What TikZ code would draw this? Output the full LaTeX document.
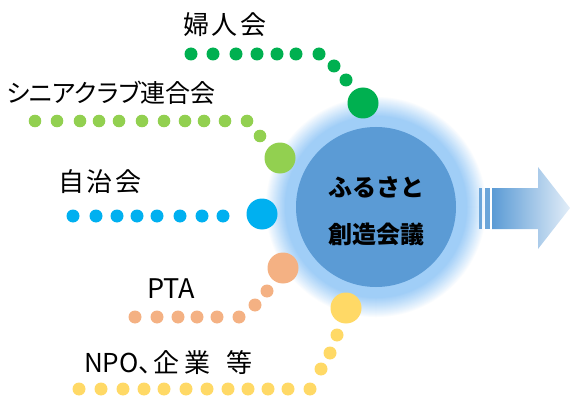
\documentclass[tikz,border=0pt]{standalone}
\usepackage{fontspec}
\newfontfamily\jp[RawFeature=+palt]{Noto Sans CJK JP}
\newfontfamily\jpw[RawFeature=+palt,LetterSpace=8]{Noto Sans CJK JP}
\newfontfamily\jpb{Noto Sans CJK JP}
\definecolor{cgreen}{HTML}{00B050}
\definecolor{clgreen}{HTML}{92D050}
\definecolor{cblue}{HTML}{00B0F0}
\definecolor{corange}{HTML}{F4B183}
\definecolor{cyellow}{HTML}{FFD966}
\definecolor{mainc}{HTML}{5B9BD5}
\definecolor{glowc}{HTML}{A0CEF7}
\definecolor{arrowL}{HTML}{5B9BD5}
\definecolor{arrowR}{HTML}{E2EDF8}
\tikzset{
  lbl/.style={font=\jp\fontsize{25}{25}\selectfont, inner sep=0pt},
  lblw/.style={font=\jpw\fontsize{26}{26}\selectfont, inner sep=0pt},
  ctr/.style={font=\jpb\bfseries\fontsize{24}{24}\selectfont, inner sep=0pt},
  bigdot/.style={circle, minimum size=31pt, inner sep=0pt, draw=none},
}
\begin{document}
\begin{tikzpicture}[x=1pt,y=-1pt]
\useasboundingbox (0,0) rectangle (571,396);
% glow
\foreach \r in {111,110,...,81} {
  \pgfmathtruncatemacro\p{min(100,100*((111-\r)/20)^0.9)}
  \fill[glowc!\p!white] (376,207) circle (\r pt);
}
\node[circle, minimum size=160pt, inner sep=0pt, fill=mainc] (core) at (376,207) {};
\node[ctr] (t1) at (376,187) {ふるさと};
\node[ctr] (t2) at (376,234) {創造会議};
% arrow
\fill[mainc!90!white] (479,188) rectangle (482,229);
\fill[mainc!90!white] (484.7,188) rectangle (490,229);
\shade[left color=arrowL, right color=arrowR] (492,188) -- (538,188) -- (538,167) -- (570,208) -- (538,249) -- (538,229) -- (492,229) -- cycle;
% green
\foreach \x in {191,213,236,257,277,296,319} \fill[cgreen] (\x,54) circle (6.5pt);
\fill[cgreen] (334,66) circle (6.5pt);
\fill[cgreen] (346,80) circle (6.5pt);
\node[bigdot, fill=cgreen] (g) at (363,103) {};
% light green
\foreach \x in {35,57,80,99,119,142,164,185,204,225,247} \fill[clgreen] (\x,121) circle (6.3pt);
\fill[clgreen] (260,136) circle (6.3pt);
\node[bigdot, fill=clgreen] (lg) at (280,158) {};
% blue
\foreach \x in {73,96,117,137,157,180,202,223} \fill[cblue] (\x,216) circle (6.5pt);
\node[bigdot, fill=cblue] (b) at (262,214) {};
% orange
\foreach \x in {135,157,178,197,217,239} \fill[corange] (\x,317) circle (6.5pt);
\fill[corange] (255,305) circle (6.5pt);
\fill[corange] (267,291) circle (6.5pt);
\node[bigdot, fill=corange] (o) at (283,268) {};
% yellow
\foreach \x in {79,101,123,144,164,186,207,228,248,268,288,310} \fill[cyellow] (\x,389) circle (6.5pt);
\fill[cyellow] (321,369) circle (6.5pt);
\fill[cyellow] (330,353) circle (6.5pt);
\fill[cyellow] (337,335) circle (6.5pt);
\node[bigdot, fill=cyellow] (y) at (346,308) {};
% labels
\node[lblw] (l1) at (225,25) {婦人会};
\node[lbl] (l2) at (111,93) {シニアクラブ連合会};
\node[lblw] (l3) at (100,182) {自治会};
\node[lbl, font=\jp\fontsize{27}{27}\selectfont] (l4) at (171,289) {PTA};
\node[lbl, font=\jp\fontsize{26}{26}\selectfont, anchor=west] (l5) at (84,363) {NPO、\hspace{2pt}企\hspace{5pt}業\hspace{16pt}等};
\end{tikzpicture}
\end{document}
